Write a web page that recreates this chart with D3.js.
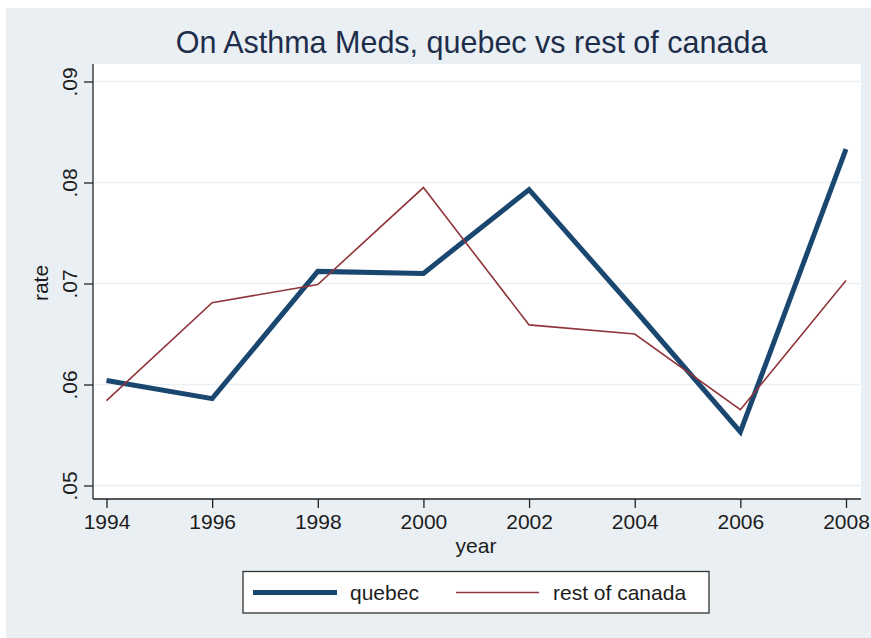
<!DOCTYPE html>
<html>
<head>
<meta charset="utf-8">
<script src="https://cdn.jsdelivr.net/npm/d3@7"></script>
<style>
  html, body { margin: 0; padding: 0; background: #ffffff; }
  svg { display: block; font-family: "Liberation Sans", Arial, Helvetica, sans-serif; }
</style>
</head>
<body>
<svg id="chart" width="871" height="638"></svg>
<script>
const years = [1994, 1996, 1998, 2000, 2002, 2004, 2006, 2008];
const quebec = [0.0604, 0.0586, 0.0712, 0.0710, 0.0793, 0.0674, 0.0553, 0.0833];
const restOfCanada = [0.0584, 0.0681, 0.0699, 0.0795, 0.0659, 0.0650, 0.0575, 0.0703];
const yTicks = [0.05, 0.06, 0.07, 0.08, 0.09];
const yTickLabels = [".05", ".06", ".07", ".08", ".09"];
const xTicks = [1994, 1996, 1998, 2000, 2002, 2004, 2006, 2008];
const seriesNames = ["quebec", "rest of canada"];
const seriesColors = ["#1a476f", "#90353b"];
const seriesWidths = [5, 1.6];
const titleText = "On Asthma Meds, quebec vs rest of canada";
const xLabel = "year";
const yLabel = "rate";

const svg = d3.select("#chart");
const W = 871, H = 638;

// graph region background
svg.append("rect").attr("x", 6).attr("y", 8).attr("width", W - 6).attr("height", H - 8)
  .attr("fill", "#e9eff3");

const plot = { left: 93, right: 861, top: 64, bottom: 499 };
svg.append("rect").attr("x", plot.left).attr("y", plot.top)
  .attr("width", plot.right - plot.left).attr("height", plot.bottom - plot.top)
  .attr("fill", "#ffffff");

const x = d3.scaleLinear().domain([1994, 2008]).range([106.5, 846]);
const y = d3.scaleLinear().domain([0.05, 0.09]).range([485.5, 81.5]);

// gridlines
svg.append("g").selectAll("line").data(yTicks).join("line")
  .attr("x1", plot.left).attr("x2", plot.right)
  .attr("y1", d => y(d)).attr("y2", d => y(d))
  .attr("stroke", "#eaf0f3").attr("stroke-width", 1.5);

// y axis
const yAxis = d3.axisLeft(y).tickValues(yTicks)
  .tickFormat((d, i) => yTickLabels[i]).tickSize(9).tickPadding(6);
const gy = svg.append("g").attr("transform", `translate(${plot.left},0)`).call(yAxis);
gy.select(".domain").attr("d", `M0,${plot.top}V${plot.bottom}`).attr("stroke", "#222").attr("stroke-width", 1.3);
gy.selectAll(".tick line").attr("stroke", "#222").attr("stroke-width", 1.3);
gy.selectAll(".tick text")
  .attr("font-size", 21).attr("fill", "#1c1c1c")
  .attr("font-family", "Liberation Sans, Arial, sans-serif")
  .attr("transform", "rotate(-90)")
  .attr("x", 0).attr("y", -16).attr("dy", 0)
  .attr("text-anchor", "middle");

// x axis
const xAxis = d3.axisBottom(x).tickValues(xTicks).tickFormat(d3.format("d"))
  .tickSize(9).tickPadding(6);
const gx = svg.append("g").attr("transform", `translate(0,${plot.bottom})`).call(xAxis);
gx.select(".domain").attr("d", `M${plot.left},0H${plot.right}`).attr("stroke", "#222").attr("stroke-width", 1.3);
gx.selectAll(".tick line").attr("stroke", "#222").attr("stroke-width", 1.3);
gx.selectAll(".tick text").attr("font-size", 21).attr("fill", "#1c1c1c")
  .attr("font-family", "Liberation Sans, Arial, sans-serif")
  .attr("dy", 0).attr("y", 30);

// axis titles
svg.append("text").attr("x", 476).attr("y", 553).attr("text-anchor", "middle")
  .attr("font-size", 21).attr("fill", "#1c1c1c").text(xLabel);
svg.append("text").attr("transform", "translate(48,283) rotate(-90)")
  .attr("text-anchor", "middle").attr("font-size", 21).attr("fill", "#1c1c1c").text(yLabel);

// title
svg.append("text").attr("x", 471.5).attr("y", 53).attr("text-anchor", "middle")
  .attr("font-size", 30.5).attr("fill", "#1e2d4a").text(titleText);

// lines
const line = d3.line().x((d, i) => x(years[i])).y(d => y(d));
const allSeries = [quebec, restOfCanada];
allSeries.forEach((s, k) => {
  svg.append("path").datum(s).attr("d", line)
    .attr("fill", "none").attr("stroke", seriesColors[k])
    .attr("stroke-width", seriesWidths[k]).attr("stroke-linejoin", "miter");
});

// legend
const leg = svg.append("g");
leg.append("rect").attr("x", 243).attr("y", 571.5).attr("width", 466).attr("height", 41.5)
  .attr("fill", "#ffffff").attr("stroke", "#333").attr("stroke-width", 1.3);
const legItems = [
  { x1: 253, x2: 337, tx: 350 },
  { x1: 456, x2: 539, tx: 553 }
];
legItems.forEach((it, k) => {
  leg.append("line").attr("x1", it.x1).attr("x2", it.x2).attr("y1", 592.5).attr("y2", 592.5)
    .attr("stroke", seriesColors[k]).attr("stroke-width", seriesWidths[k]);
  leg.append("text").attr("x", it.tx).attr("y", 600).attr("font-size", 21)
    .attr("fill", "#1c1c1c").text(seriesNames[k]);
});
</script>
</body>
</html>
